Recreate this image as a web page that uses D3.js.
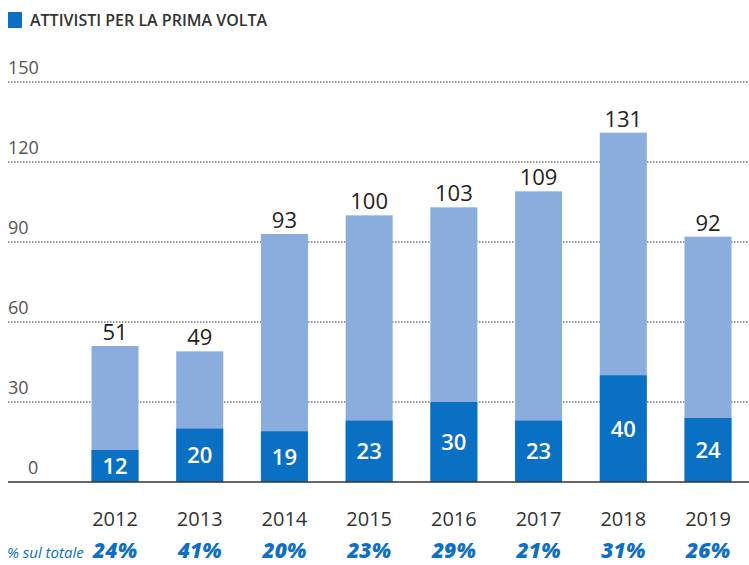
<!DOCTYPE html>
<html>
<head>
<meta charset="utf-8">
<script src="https://cdn.jsdelivr.net/npm/d3@7"></script>
<style>
  body { margin: 0; background: #fff; }
  text { font-family: "Open Sans", Lato, sans-serif; }
</style>
</head>
<body>
<div id="chart"></div>
<script>
const years = ["2012", "2013", "2014", "2015", "2016", "2017", "2018", "2019"]
const totals = [51, 49, 93, 100, 103, 109, 131, 92]
const firstTime = [12, 20, 19, 23, 30, 23, 40, 24]
const shares = ["24%", "41%", "20%", "23%", "29%", "21%", "31%", "26%"]
const yTicks = [0, 30, 60, 90, 120, 150]

const width = 749
const height = 565
const margins = ({ top: 82, right: 41, bottom: 83, left: 115 })
const barWidth = 47

const lightBlue = "#8badde"
const darkBlue = "#0a70c4"

const svg = d3.select("#chart")
    .append("svg")
    .attr("width", width)
    .attr("height", height)

// bar centres
const x = d3.scalePoint()
    .domain(years)
    .range([margins.left, width - margins.right])

const y = d3.scaleLinear()
    .domain([0, 150])
    .range([height - margins.bottom, margins.top])

// legend
svg.append("rect")
    .attr("x", 8).attr("y", 12)
    .attr("width", 14).attr("height", 16)
    .attr("fill", darkBlue)
svg.append("text")
    .text("ATTIVISTI PER LA PRIMA VOLTA")
    .attr("x", 30).attr("y", 26)
    .attr("font-size", 16).attr("font-weight", 600)
    .attr("fill", "#333")

// gridlines and y labels
svg.selectAll(".grid")
    .data(yTicks.filter(d => d > 0))
    .join("line")
    .attr("class", "grid")
    .attr("x1", 8).attr("x2", width)
    .attr("y1", d => y(d)).attr("y2", d => y(d))
    .attr("stroke", "#333")
    .attr("stroke-width", 1.2)
    .attr("stroke-dasharray", "1.5,1.5")

svg.selectAll(".ylab")
    .data(yTicks)
    .join("text")
    .attr("class", "ylab")
    .text(d => d)
    .attr("x", d => d === 0 ? 28 : 8)
    .attr("y", d => y(d) - 8)
    .attr("font-size", 18)
    .attr("fill", "#555")

// bars
svg.selectAll(".total")
    .data(totals)
    .join("rect")
    .attr("class", "total")
    .attr("x", (d, i) => x(years[i]) - barWidth / 2)
    .attr("width", barWidth)
    .attr("y", d => y(d))
    .attr("height", d => y(0) - y(d))
    .attr("fill", lightBlue)

svg.selectAll(".first")
    .data(firstTime)
    .join("rect")
    .attr("class", "first")
    .attr("x", (d, i) => x(years[i]) - barWidth / 2)
    .attr("width", barWidth)
    .attr("y", d => y(d))
    .attr("height", d => y(0) - y(d))
    .attr("fill", darkBlue)

// baseline
svg.append("line")
    .attr("x1", 8).attr("x2", width)
    .attr("y1", y(0)).attr("y2", y(0))
    .attr("stroke", "#333").attr("stroke-width", 1.5)

// value labels
svg.selectAll(".total-lab")
    .data(totals)
    .join("text")
    .attr("class", "total-lab")
    .text(d => d)
    .attr("x", (d, i) => x(years[i]))
    .attr("y", d => y(d) - 6)
    .attr("text-anchor", "middle")
    .attr("font-size", 22)
    .attr("fill", "#222")

svg.selectAll(".first-lab")
    .data(firstTime)
    .join("text")
    .attr("class", "first-lab")
    .text(d => d)
    .attr("x", (d, i) => x(years[i]))
    .attr("y", d => (y(d) + y(0)) / 2)
    .attr("dy", "0.36em")
    .attr("text-anchor", "middle")
    .attr("font-size", 22)
    .attr("font-weight", 600)
    .attr("fill", "#fff")

// year axis
svg.selectAll(".year")
    .data(years)
    .join("text")
    .attr("class", "year")
    .text(d => d)
    .attr("x", d => x(d))
    .attr("y", 526)
    .attr("text-anchor", "middle")
    .attr("font-size", 20)
    .attr("fill", "#333")

// share row
svg.append("text")
    .text("% sul totale")
    .attr("x", 7).attr("y", 558)
    .attr("font-size", 15)
    .attr("font-style", "italic")
    .attr("fill", darkBlue)

svg.selectAll(".share")
    .data(shares)
    .join("text")
    .attr("class", "share")
    .text(d => d)
    .attr("x", (d, i) => x(years[i]))
    .attr("y", 558)
    .attr("text-anchor", "middle")
    .attr("font-size", 21)
    .attr("font-weight", 800)
    .attr("font-style", "italic")
    .attr("fill", "#0f6fc0")
</script>
</body>
</html>
